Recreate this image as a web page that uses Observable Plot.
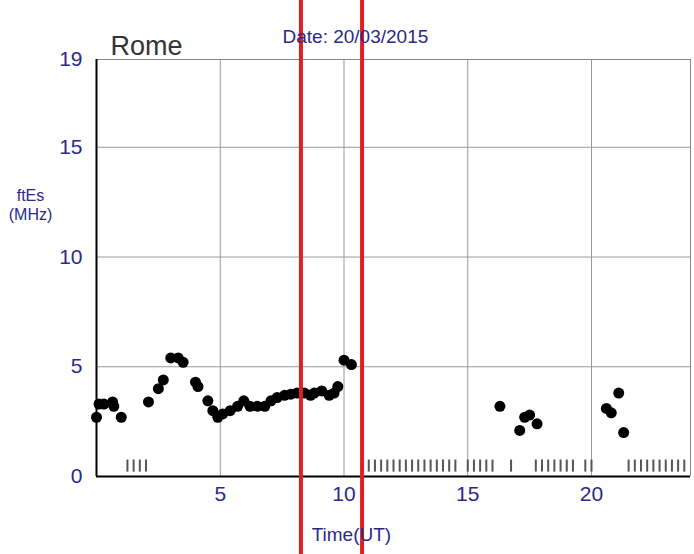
<!DOCTYPE html>
<html><head><meta charset="utf-8">
<script src="https://cdn.jsdelivr.net/npm/d3@7"></script>
<script src="https://cdn.jsdelivr.net/npm/@observablehq/plot@0.6"></script>
<style>body{margin:0;background:#fff}</style>
</head><body><div id="chart"></div>
<script>
// hora (UT) y foEs (MHz)
const hours = [0,0.1,0.3,0.65,0.7,1.0,2.1,2.5,2.7,3.0,3.3,3.5,4.0,4.1,4.5,4.7,4.9,5.1,5.4,5.7,5.95,6.2,6.5,6.8,7.05,7.3,7.6,7.85,8.1,8.4,8.65,8.8,9.1,9.4,9.6,9.75,10.0,10.3,
  16.3,17.1,17.3,17.5,17.8,20.6,20.8,21.1,21.3]
const ftes = [2.7,3.3,3.3,3.4,3.2,2.7,3.4,4.0,4.4,5.4,5.4,5.2,4.3,4.1,3.45,3.0,2.7,2.85,3.0,3.2,3.45,3.2,3.2,3.2,3.45,3.6,3.7,3.75,3.8,3.8,3.7,3.8,3.9,3.7,3.8,4.1,5.3,5.1,
  3.2,2.1,2.7,2.8,2.4,3.1,2.9,3.8,2.0]
// marcas de "sin dato"
const noData = [1.25,1.5,1.75,2.0,
  10.75,11.0,11.25,11.5,11.75,12.0,12.25,12.5,12.75,13.0,13.25,13.5,13.75,14.0,14.25,14.5,
  15.0,15.25,15.5,15.75,16.0,16.75,
  17.75,18.0,18.25,18.5,18.75,19.0,19.25,19.75,20.0,
  21.5,21.75,22.0,22.25,22.5,22.75,23.0,23.25,23.5,23.75]
const redLines = [8.26, 10.73]
const yTicks = [0,5,10,15,19]
const xTicks = [5,10,15,20]

const data = hours.map((h,i) => ({h, f: ftes[i]}))
const blue = "#2a2a8a"

let chart = Plot.plot({
  width: 694, height: 554,
  marginLeft: 96, marginTop: 59, marginRight: 4, marginBottom: 78,
  style: {fontFamily: "Liberation Sans, Arial, sans-serif"},
  x: {domain: [0,24]},
  y: {domain: [0,19]},
  marks: [
    Plot.ruleX(xTicks, {stroke: "#999", strokeWidth: 1}),
    Plot.ruleY([5,10,15], {stroke: "#999", strokeWidth: 1}),
    Plot.ruleY([19], {stroke: "#888"}),
    Plot.ruleX([24], {stroke: "#888"}),
    Plot.ruleX(noData, {y1: 0.2, y2: 0.75, stroke: "#555", strokeWidth: 2}),
    Plot.dot(data, {x: "h", y: "f", r: 5.5, fill: "black"}),
    Plot.ruleX([0], {stroke: "black", strokeWidth: 2}),
    Plot.ruleY([0], {stroke: "black", strokeWidth: 2}),
    Plot.ruleX(redLines, {y1: -3.6, y2: 21.8, stroke: "#e02020", strokeWidth: 4}),
    Plot.axisY({ticks: yTicks, tickSize: 0, tickPadding: 14, label: null, fontSize: 21, color: blue}),
    Plot.axisX({ticks: xTicks, tickSize: 0, tickPadding: 10, label: null, fontSize: 21, color: blue}),
    Plot.text(["Time(UT)"], {frameAnchor: "bottom", x: 10.3, dy: 64, fontSize: 19, fill: blue}),
    Plot.text(["ftEs\n(MHz)"], {frameAnchor: "left", y: 12.4, dx: -66, textAnchor: "middle", fontSize: 16, fill: blue, lineHeight: 1.2}),
    Plot.text(["Rome"], {frameAnchor: "top-left", dx: 14, dy: -24, fontSize: 27, fill: "#333"}),
    Plot.text(["Date: 20/03/2015"], {frameAnchor: "top-left", dx: 186, dy: -30, fontSize: 19, fill: blue})
  ]
})
d3.select('#chart').append(() => chart)
</script>
</body></html>
